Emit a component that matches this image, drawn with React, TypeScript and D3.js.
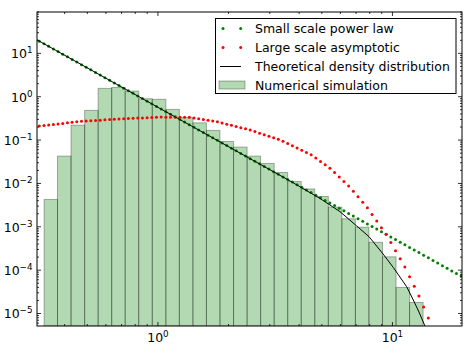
import * as d3 from "d3";

// histogram of the numerical simulation (log-spaced bins)
const binEdges = [
  0.327, 0.373, 0.426, 0.487, 0.556, 0.635, 0.725, 0.828, 0.946, 1.081,
  1.234, 1.41, 1.61, 1.839, 2.101, 2.4, 2.741, 3.131, 3.576, 4.084,
  4.665, 5.329, 6.086, 6.951, 7.94, 9.069, 10.36, 11.83, 13.51,
];
const binDensity = [
  0.00427, 0.0427, 0.221, 0.484, 1.56, 1.64, 1.35, 0.9, 0.87, 0.51,
  0.33, 0.25, 0.167, 0.093, 0.069, 0.0427, 0.0289, 0.0179, 0.0111, 0.00746,
  0.005, 0.00284, 0.00153, 0.00098, 0.00044, 0.000203, 0.00004, 0.000018,
];

// small scale power law (straight in log-log)
const powerLawX = [0.305, 19.8];
const powerLawY = [20.5, 7.1e-5];

// large scale asymptotic
const asymptoticX = [0.305, 0.465, 0.689, 1.02, 1.37, 1.78, 2.47, 3.32, 4.51, 5.42, 6.51, 7.81, 9.39, 11.28, 12.98, 14.22];
const asymptoticY = [0.207, 0.27, 0.308, 0.339, 0.334, 0.267, 0.171, 0.101, 0.0455, 0.0224, 0.00875, 0.00276, 0.00068, 0.00012, 2.53e-5, 7.9e-6];

// theoretical density distribution
const theoryX = [0.305, 3.658, 4.911, 5.975, 7.04, 7.945, 9.05, 10.09, 11.5, 12.27, 12.98, 13.77, 14.18];
const theoryY = [20.5, 0.01142, 0.004504, 0.002233, 0.001045, 5.92e-4, 2.49e-4, 1.15e-4, 4.15e-5, 2.05e-5, 1.08e-5, 5.1e-6, 3.0e-6];

const xMajor = [1, 10];
const xExponents = ["0", "1"];
const yMajor = [1e-5, 1e-4, 1e-3, 1e-2, 1e-1, 1, 10];
const yExponents = ["\u22125", "\u22124", "\u22123", "\u22122", "\u22121", "0", "1"];

const legendLabels = [
  "Small scale power law",
  "Large scale asymptotic",
  "Theoretical density distribution",
  "Numerical simulation",
];

const FONT = "DejaVu Sans";
const width = 474;
const height = 358;
const plot = { left: 37, right: 462, top: 12, bottom: 326 };
const dotStart = 39.3; // px position of first marker
const dotStep = 4.687; // px between markers

export default function App() {
  const x = d3.scaleLog().domain([0.305, 19.8]).range([plot.left, plot.right]);
  const y = d3.scaleLog().domain([5.15e-6, 90]).range([plot.bottom, plot.top]);

  const line = d3
    .line<[number, number]>()
    .x((d) => x(d[0]))
    .y((d) => y(d[1]));

  // markers placed evenly in x along the curve
  const dotsAlong = (xs: number[], ys: number[]) => {
    const px = xs.map((v) => x(v));
    const py = ys.map((v) => y(v));
    const along = d3.scaleLinear().domain(px).range(py);
    return d3
      .range(dotStart, px[px.length - 1] + 0.5, dotStep)
      .filter((p) => p >= px[0] - 0.5)
      .map((p) => [p, along(p)]);
  };

  const greenDots = dotsAlong(powerLawX, powerLawY);
  const redDots = dotsAlong(asymptoticX, asymptoticY);
  const theory = theoryX.map((v, i) => [v, theoryY[i]] as [number, number]);

  const xMinor = x.ticks().filter((t) => !xMajor.some((m) => Math.abs(m - t) < 1e-9));
  const yMinor = y.ticks().filter((t) => !yMajor.some((m) => Math.abs(m - t) / m < 1e-6));

  const rowY = [28.5, 47.5, 66.5, 85];

  return (
    <svg
      width={width}
      height={height}
      style={{ position: "absolute", left: 0, top: 0, background: "white" }}
      fontFamily={FONT}
    >
      <defs>
        <clipPath id="plotclip">
          <rect x={plot.left} y={plot.top} width={plot.right - plot.left} height={plot.bottom - plot.top} />
        </clipPath>
      </defs>

      <g clipPath="url(#plotclip)">
        {binDensity.map((v, i) => (
          <rect
            key={i}
            x={x(binEdges[i])}
            y={y(v)}
            width={x(binEdges[i + 1]) - x(binEdges[i])}
            height={plot.bottom - y(v)}
            fill="rgb(0,128,0)"
            fillOpacity={0.3}
            stroke="black"
            strokeOpacity={0.3}
            strokeWidth={1}
          />
        ))}
        {greenDots.map((d, i) => (
          <circle key={"g" + i} cx={d[0]} cy={d[1]} r={1.5} fill="#008000" />
        ))}
        {redDots.map((d, i) => (
          <circle key={"r" + i} cx={d[0]} cy={d[1]} r={1.5} fill="#ff0000" />
        ))}
        <path d={line(theory) ?? ""} fill="none" stroke="black" strokeWidth={1} />
      </g>

      {/* ticks on all four sides, pointing in */}
      <g stroke="black" strokeWidth={0.8}>
        {xMajor.map((t) => (
          <g key={"xM" + t}>
            <line x1={x(t)} x2={x(t)} y1={plot.bottom} y2={plot.bottom - 4} />
            <line x1={x(t)} x2={x(t)} y1={plot.top} y2={plot.top + 4} />
          </g>
        ))}
        {xMinor.map((t) => (
          <g key={"xm" + t}>
            <line x1={x(t)} x2={x(t)} y1={plot.bottom} y2={plot.bottom - 2} />
            <line x1={x(t)} x2={x(t)} y1={plot.top} y2={plot.top + 2} />
          </g>
        ))}
        {yMajor.map((t) => (
          <g key={"yM" + t}>
            <line x1={plot.left} x2={plot.left + 4} y1={y(t)} y2={y(t)} />
            <line x1={plot.right} x2={plot.right - 4} y1={y(t)} y2={y(t)} />
          </g>
        ))}
        {yMinor.map((t) => (
          <g key={"ym" + t}>
            <line x1={plot.left} x2={plot.left + 2} y1={y(t)} y2={y(t)} />
            <line x1={plot.right} x2={plot.right - 2} y1={y(t)} y2={y(t)} />
          </g>
        ))}
      </g>

      <rect
        x={plot.left}
        y={plot.top}
        width={plot.right - plot.left}
        height={plot.bottom - plot.top}
        fill="none"
        stroke="black"
        strokeWidth={1}
      />

      {/* tick labels */}
      {xMajor.map((t, i) => (
        <text key={"xl" + t} x={x(t)} y={342} textAnchor="middle" fontSize={12.5} fill="black">
          10
          <tspan fontSize={8.75} dy={-5}>
            {xExponents[i]}
          </tspan>
        </text>
      ))}
      {yMajor.map((t, i) => (
        <text key={"yl" + t} x={32.5} y={y(t) + 4.8} textAnchor="end" fontSize={12.5} fill="black">
          10
          <tspan fontSize={8.75} dy={-5}>
            {yExponents[i]}
          </tspan>
        </text>
      ))}

      {/* legend */}
      <g>
        <rect x={215.5} y={18.5} width={240.5} height={75} fill="white" stroke="black" strokeWidth={1} />
        <circle cx={223} cy={rowY[0]} r={1.5} fill="#008000" />
        <circle cx={240.7} cy={rowY[0]} r={1.5} fill="#008000" />
        <circle cx={223} cy={rowY[1]} r={1.5} fill="#ff0000" />
        <circle cx={240.7} cy={rowY[1]} r={1.5} fill="#ff0000" />
        <line x1={220} x2={241} y1={rowY[2]} y2={rowY[2]} stroke="black" strokeWidth={1} />
        <rect
          x={219}
          y={rowY[3] - 4}
          width={26}
          height={8}
          fill="rgb(0,128,0)"
          fillOpacity={0.3}
          stroke="black"
          strokeOpacity={0.3}
        />
        {legendLabels.map((l, i) => (
          <text key={l} x={255} y={rowY[i] + 4.5} fontSize={12.5} fill="black">
            {l}
          </text>
        ))}
      </g>
    </svg>
  );
}
